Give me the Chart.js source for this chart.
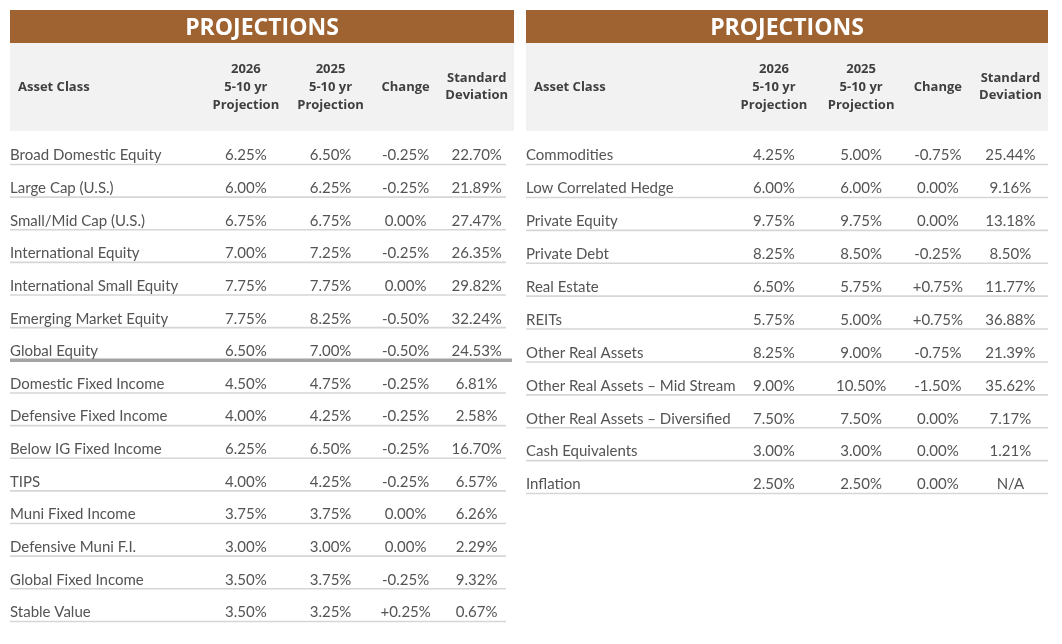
<!DOCTYPE html>
<html><head><meta charset="utf-8">
<script src="https://cdn.jsdelivr.net/npm/chart.js@4"></script>
<style>
html,body{margin:0;padding:0;background:#fff;width:1062px;height:644px;overflow:hidden}
.box{position:absolute;top:0;height:644px}
#b1{left:0;width:520px}
#b2{left:520px;width:542px}
</style></head><body>
<div class="box" id="b1"><canvas id="c1"></canvas></div>
<div class="box" id="b2"><canvas id="c2"></canvas></div>
<script>
// ---------- DATA ----------
const tableTitle = "PROJECTIONS";
const columnHeaders = [["Asset Class"], ["2026", "5-10 yr", "Projection"], ["2025", "5-10 yr", "Projection"], ["Change"], ["Standard", "Deviation"]];

const leftAssets = ["Broad Domestic Equity", "Large Cap (U.S.)", "Small/Mid Cap (U.S.)", "International Equity", "International Small Equity", "Emerging Market Equity", "Global Equity", "Domestic Fixed Income", "Defensive Fixed Income", "Below IG Fixed Income", "TIPS", "Muni Fixed Income", "Defensive Muni F.I.", "Global Fixed Income", "Stable Value"];
const leftProj2026 = [6.25, 6.00, 6.75, 7.00, 7.75, 7.75, 6.50, 4.50, 4.00, 6.25, 4.00, 3.75, 3.00, 3.50, 3.50];
const leftProj2025 = [6.50, 6.25, 6.75, 7.25, 7.75, 8.25, 7.00, 4.75, 4.25, 6.50, 4.25, 3.75, 3.00, 3.75, 3.25];
const leftChange = [-0.25, -0.25, 0.00, -0.25, 0.00, -0.50, -0.50, -0.25, -0.25, -0.25, -0.25, 0.00, 0.00, -0.25, 0.25];
const leftStdDev = [22.70, 21.89, 27.47, 26.35, 29.82, 32.24, 24.53, 6.81, 2.58, 16.70, 6.57, 6.26, 2.29, 9.32, 0.67];
const leftDividerAfter = ["Global Equity"];

const rightAssets = ["Commodities", "Low Correlated Hedge", "Private Equity", "Private Debt", "Real Estate", "REITs", "Other Real Assets", "Other Real Assets \u2013 Mid Stream", "Other Real Assets \u2013 Diversified", "Cash Equivalents", "Inflation"];
const rightProj2026 = [4.25, 6.00, 9.75, 8.25, 6.50, 5.75, 8.25, 9.00, 7.50, 3.00, 2.50];
const rightProj2025 = [5.00, 6.00, 9.75, 8.50, 5.75, 5.00, 9.00, 10.50, 7.50, 3.00, 2.50];
const rightChange = [-0.75, 0.00, 0.00, -0.25, 0.75, 0.75, -0.75, -1.50, 0.00, 0.00, 0.00];
const rightStdDev = [25.44, 9.16, 13.18, 8.50, 11.77, 36.88, 21.39, 35.62, 7.17, 1.21, null];
const rightDividerAfter = [];

// ---------- STYLE / LAYOUT ----------
const BROWN = "#9E6331";
const HEAD_BG = "#F2F2F2";
const TEXT = "#545454";
const HEAD_TEXT = "#3F3F3F";
const leftColPos = [0, 46.8, 63.6, 78.5, 92.6];   // x-scale units (0..100 across table)
const rightColPos = [0, 47.5, 64.2, 78.9, 92.8];
const BODY_FONT = '15px Lato';
const HEAD_FONT = 'bold 13px "Open Sans"';
const TITLE_FONT = 'bold 23px "Open Sans"';

function fmtPct(v) { return v == null ? "N/A" : v.toFixed(2) + "%"; }
function fmtChg(v) { return v == null ? "N/A" : (v > 0 ? "+" : "") + v.toFixed(2) + "%"; }

const tablePlugin = {
  id: "tablePlugin",
  beforeDraw(chart, args, o) {
    const ctx = chart.ctx, a = chart.chartArea, xs = chart.scales.x, ys = chart.scales.y;
    ctx.save();
    ctx.fillStyle = "#fff"; ctx.fillRect(0, 0, chart.width, chart.height);
    const w = a.right - a.left;
    ctx.fillStyle = BROWN; ctx.fillRect(a.left, 10, w, 33);
    ctx.fillStyle = HEAD_BG; ctx.fillRect(a.left, 43, w, 88);
    ctx.fillStyle = "#fff"; ctx.font = TITLE_FONT; ctx.textAlign = "center"; ctx.textBaseline = "middle";
    ctx.fillText(tableTitle, (a.left + a.right) / 2, 28);
    ctx.fillStyle = HEAD_TEXT; ctx.font = HEAD_FONT;
    columnHeaders.forEach((lines, c) => {
      const x = c === 0 ? a.left + 8 : xs.getPixelForValue(o.colPos[c]);
      ctx.textAlign = c === 0 ? "left" : "center";
      const lh = lines.length === 3 ? 18 : 17;
      const y0 = 87 - (lines.length - 1) * lh / 2;
      lines.forEach((t, k) => ctx.fillText(t, x, y0 + k * lh));
    });
    // row rules
    const labels = ys.getLabels();
    const band = ys.getPixelForValue(1) - ys.getPixelForValue(0);
    labels.forEach((lab, i) => {
      const y = ys.getPixelForValue(i) + band * 0.29;
      const thick = o.dividers.includes(lab);
      ctx.strokeStyle = thick ? "#A3A3A3" : "#D6D6D6";
      ctx.lineWidth = thick ? 3.5 : 1.6;
      ctx.beginPath(); ctx.moveTo(a.left, y); ctx.lineTo(a.right - (thick ? 2 : o.ruleInset), y); ctx.stroke();
    });
    ctx.restore();
  },
  afterDatasetsDraw(chart) {
    const ctx = chart.ctx;
    ctx.save();
    ctx.fillStyle = TEXT; ctx.font = BODY_FONT; ctx.textBaseline = "middle";
    chart.data.datasets.forEach((ds, c) => {
      const meta = chart.getDatasetMeta(c);
      ctx.textAlign = c === 0 ? "left" : "center";
      meta.data.forEach((pt, i) => {
        ctx.fillText(ds.data[i].t, pt.x, pt.y + 0.5);
      });
    });
    ctx.restore();
  }
};

function makeTable(canvasId, assets, p26, p25, chg, sd, dividers, colPos, padding, ruleInset) {
  const cols = [
    assets.map(n => n),
    p26.map(fmtPct),
    p25.map(fmtPct),
    chg.map(fmtChg),
    sd.map(fmtPct)
  ];
  const datasets = cols.map((texts, c) => ({
    data: assets.map((n, i) => ({ x: colPos[c], y: n, t: texts[i] })),
    pointRadius: 0, pointHoverRadius: 0, showLine: false
  }));
  return new Chart(document.getElementById(canvasId), {
    type: "scatter",
    data: { datasets },
    options: {
      responsive: true, maintainAspectRatio: false, animation: false, events: [],
      layout: { padding },
      plugins: { legend: { display: false }, tooltip: { enabled: false }, tablePlugin: { dividers, ruleInset, colPos } },
      scales: {
        x: { type: "linear", min: 0, max: 100, display: false },
        y: { type: "category", labels: assets, offset: true, display: false }
      }
    },
    plugins: [tablePlugin]
  });
}

const LEFT_BAND = 32.64, RIGHT_BAND = 32.9;
makeTable("c1", leftAssets, leftProj2026, leftProj2025, leftChange, leftStdDev, leftDividerAfter, leftColPos,
  { left: 10, right: 6, top: 155 - LEFT_BAND / 2, bottom: 644 - (155 - LEFT_BAND / 2 + leftAssets.length * LEFT_BAND) }, 8);
makeTable("c2", rightAssets, rightProj2026, rightProj2025, rightChange, rightStdDev, rightDividerAfter, rightColPos,
  { left: 6, right: 14, top: 155 - RIGHT_BAND / 2, bottom: 644 - (155 - RIGHT_BAND / 2 + rightAssets.length * RIGHT_BAND) }, 0);
</script>
</body></html>
